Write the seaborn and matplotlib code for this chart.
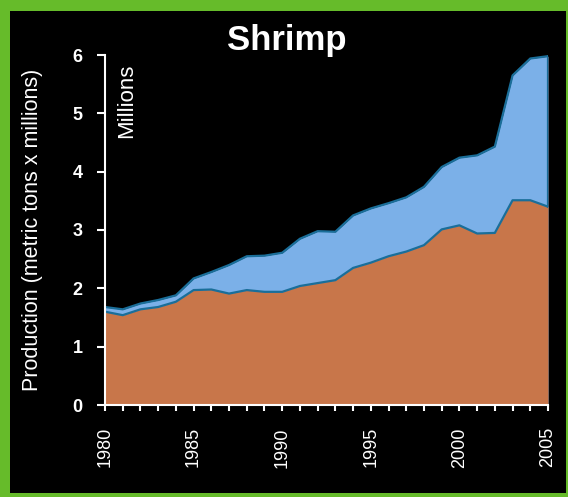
import numpy as np
import pandas as pd
import matplotlib
matplotlib.use("Agg")
import matplotlib.pyplot as plt
import seaborn as sns

# values (millions of metric tons)
years = list(range(1980, 2006))
lower = [1.60, 1.54, 1.64, 1.68, 1.77, 1.97, 1.98, 1.91, 1.97, 1.94, 1.94, 2.04, 2.09,
         2.14, 2.35, 2.44, 2.55, 2.63, 2.74, 3.01, 3.08, 2.94, 2.95, 3.51, 3.51, 3.40]
total = [1.68, 1.64, 1.74, 1.80, 1.88, 2.17, 2.28, 2.40, 2.55, 2.56, 2.61, 2.85, 2.98,
         2.97, 3.25, 3.37, 3.46, 3.56, 3.74, 4.08, 4.24, 4.28, 4.43, 5.65, 5.94, 5.98]
year_labels = [1980, 1985, 1990, 1995, 2000, 2005]

df = pd.DataFrame({"year": years, "lower": lower, "total": total})

orange = "#C8764A"
blue = "#7BB0E8"
edge = "#1A6E99"

sns.set_style("dark")
plt.rcParams['font.family'] = ['Liberation Sans', 'DejaVu Sans']

fig = plt.figure(figsize=(5.68, 4.97), dpi=100)
fig.patch.set_facecolor("#66BB2A")
# black panel inside the green frame
bg = fig.add_axes([10 / 568, 4 / 497, 556 / 568, 482 / 497])
bg.set_facecolor("black")
bg.set_xticks([])
bg.set_yticks([])
for s in bg.spines.values():
    s.set_visible(False)

ax = fig.add_axes([105 / 568, 1 - 405 / 497, 443 / 568, 350 / 497])
ax.set_facecolor("black")

ax.fill_between(df["year"], 0, df["total"], color=blue, lw=0)
ax.fill_between(df["year"], 0, df["lower"], color=orange, lw=0)
sns.lineplot(data=df, x="year", y="total", ax=ax, color=edge, lw=1.6)
sns.lineplot(data=df, x="year", y="lower", ax=ax, color=edge, lw=1.6)
ax.plot([2005, 2005], [df["lower"].iloc[-1], df["total"].iloc[-1]], color=edge, lw=1.6)

ax.set_xlim(1980, 2005)
ax.set_ylim(0, 6)
ax.grid(False)
for s in ["top", "right"]:
    ax.spines[s].set_visible(False)
for s in ["left", "bottom"]:
    ax.spines[s].set_visible(True)
    ax.spines[s].set_color("white")
    ax.spines[s].set_linewidth(1.5)

ax.set_xticks(years, minor=True)
ax.set_xticks(year_labels)
ax.set_xticklabels([str(y) for y in year_labels], rotation=90, color="white", fontsize=13)
ax.set_yticks(range(0, 7))
ax.set_yticklabels([str(v) for v in range(0, 7)], color="white", fontsize=13, fontweight="bold")
ax.tick_params(axis="x", which="both", direction="out", length=4, width=1.5, color="white",
               bottom=True, pad=12)
ax.tick_params(axis="y", direction="out", length=6, width=1.5, color="white", left=True, pad=10)

ax.set_xlabel("")
ax.set_ylabel("Production (metric tons x millions)", color="white", fontsize=15.5)
ax.yaxis.set_label_coords(-0.14, 0.5)

ax.text(1981.2, 5.85, "Millions", rotation=90, color="white", fontsize=16,
        ha="center", va="top")
fig.text(287 / 568, 1 - 50 / 497, "Shrimp", color="white", fontsize=25,
         fontweight="bold", ha="center", va="baseline")

fig.savefig("out.png", dpi=100, facecolor=fig.get_facecolor())
